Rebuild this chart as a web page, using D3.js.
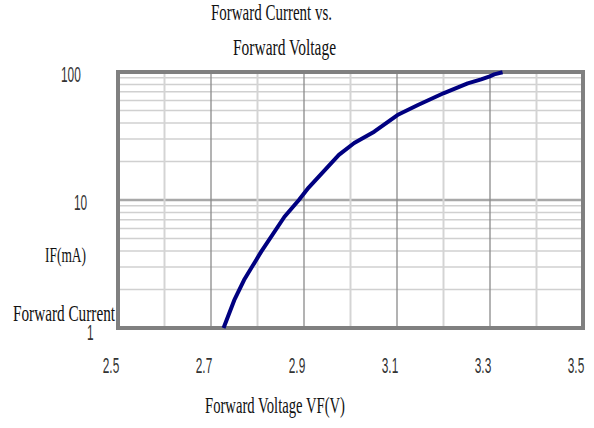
<!DOCTYPE html>
<html>
<head>
<meta charset="utf-8">
<script src="https://cdn.jsdelivr.net/npm/d3@7"></script>
<style>
  body { margin: 0; background: #fff; }
</style>
</head>
<body>
<svg id="chart" width="594" height="428"></svg>
<script>
// values (V, mA)
const voltage = [2.727, 2.750, 2.771, 2.808, 2.858, 2.889, 2.910, 2.975, 3.008, 3.051, 3.101, 3.145, 3.201, 3.252, 3.281, 3.298, 3.309, 3.327];
const current = [1.0, 1.65, 2.37, 3.95, 7.4, 10.0, 12.5, 22.5, 27.9, 34.2, 46.1, 55.2, 68.5, 81.6, 87.7, 91.9, 95.9, 99.5];

// axis stuff
const xTicks = [2.5, 2.7, 2.9, 3.1, 3.3, 3.5];
const xGrid = [2.6, 2.7, 2.8, 2.9, 3.0, 3.1, 3.2, 3.3, 3.4];
const xMajor = [2.7, 2.9, 3.1, 3.3];
const yTicks = [1, 10, 100];
const yGrid = [2, 3, 4, 5, 6, 7, 8, 9, 10, 20, 30, 40, 50, 60, 70, 80, 90];

const svg = d3.select('#chart');

const box = {left: 118, right: 583, top: 72, bottom: 328};

const x = d3.scaleLinear().domain([2.5, 3.5]).range([box.left, box.right]);
const y = d3.scaleLog().domain([1, 100]).range([box.bottom, box.top]);

//grid lines
const grid = svg.append('g').attr('class', 'grid');

grid.selectAll('line.h')
    .data(yGrid)
    .enter().append('line')
    .attr('class', 'h')
    .attr('x1', box.left).attr('x2', box.right)
    .attr('y1', d => y(d)).attr('y2', d => y(d))
    .attr('stroke', d => d === 10 ? '#a8a8a8' : '#d0d0d0')
    .attr('stroke-width', d => d === 10 ? 2.5 : 1.5);

grid.selectAll('line.v')
    .data(xGrid)
    .enter().append('line')
    .attr('class', 'v')
    .attr('y1', box.top).attr('y2', box.bottom)
    .attr('x1', d => x(d)).attr('x2', d => x(d))
    .attr('stroke', d => xMajor.includes(d) ? '#8a8a8a' : '#d4d4d4')
    .attr('stroke-width', d => xMajor.includes(d) ? 1.3 : 2);

// frame
svg.append('rect')
    .attr('x', box.left).attr('y', box.top)
    .attr('width', box.right - box.left)
    .attr('height', box.bottom - box.top)
    .attr('fill', 'none')
    .attr('stroke', '#808080')
    .attr('stroke-width', 4);

// curve
const pts = voltage.map((v, i) => [v, current[i]]);
const line = d3.line()
    .x(d => x(d[0]))
    .y(d => y(d[1]));

svg.append('path')
    .datum(pts)
    .attr('d', line)
    .attr('fill', 'none')
    .attr('stroke', '#000080')
    .attr('stroke-width', 4)
    .attr('stroke-linejoin', 'round');

// tick labels, squeezed sans
const sans = 'Liberation Sans, Arial, sans-serif';
const serif = 'Liberation Serif, Times New Roman, serif';

svg.append('g').selectAll('text')
    .data(xTicks)
    .enter().append('text')
    .attr('transform', d => 'translate(' + (x(d) - 7) + ',373) scale(0.54,1)')
    .attr('text-anchor', 'middle')
    .attr('font-family', sans)
    .attr('font-size', 22)
    .attr('fill', '#333')
    .text(d => d.toFixed(1));

svg.append('g').selectAll('text')
    .data(yTicks)
    .enter().append('text')
    .attr('transform', d => {
        const len = String(d).length;
        return 'translate(' + (87 - 13 * (len - 1)) + ',' + (y(d) + (d === 1 ? 12 : 10)) + ') scale(0.54,1)';
    })
    .attr('font-family', sans)
    .attr('font-size', 22)
    .attr('fill', '#333')
    .text(d => d);

// serif labels, squeezed to the widths in the picture
function addLabel(txt, left, base, size, w) {
    return svg.append('text')
        .attr('x', left).attr('y', base)
        .attr('font-family', serif)
        .attr('font-size', size)
        .attr('fill', '#111')
        .attr('textLength', w)
        .attr('lengthAdjust', 'spacingAndGlyphs')
        .text(txt);
}

addLabel('Forward Current vs.', 211, 20, 23, 121);
addLabel('Forward Voltage', 233, 55, 23, 103);
addLabel('Forward Voltage VF(V)', 205, 413, 23, 140);
addLabel('IF(mA)', 45, 262, 21, 41);
addLabel('Forward Current', 13, 321, 23, 102);
</script>
</body>
</html>
